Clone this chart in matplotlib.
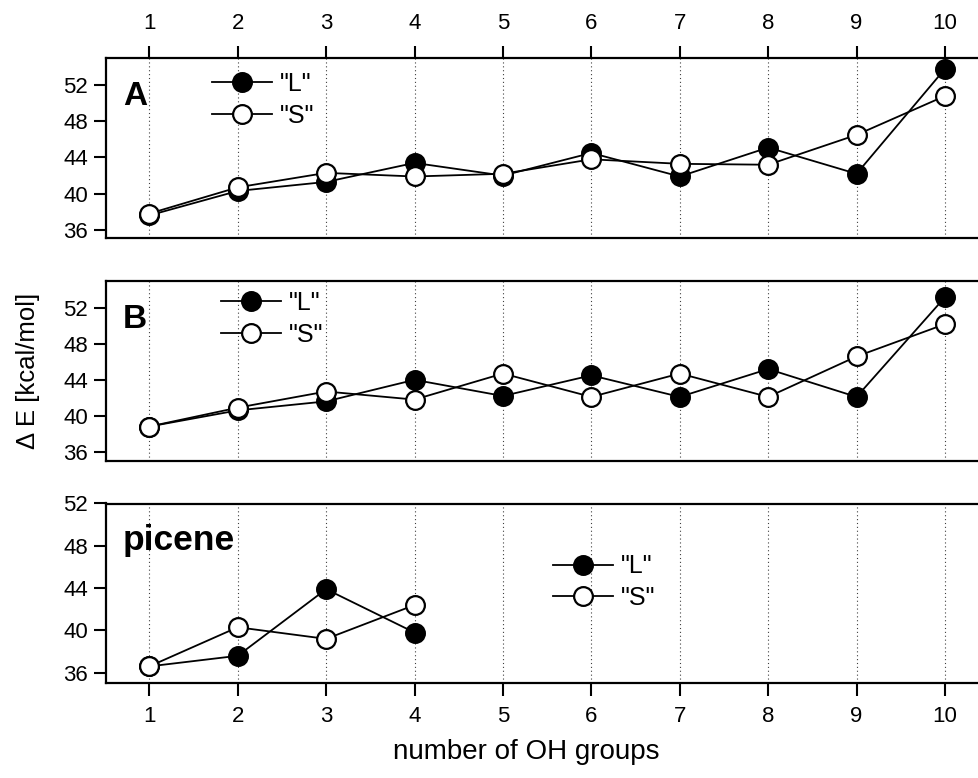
import matplotlib
matplotlib.use("Agg")
import matplotlib.pyplot as plt

plt.rcParams['font.family'] = ['Liberation Sans', 'DejaVu Sans']

# data
n_oh = [1, 2, 3, 4, 5, 6, 7, 8, 9, 10]
a_L = [37.6, 40.3, 41.3, 43.4, 42.0, 44.5, 41.9, 45.1, 42.2, 53.8]
a_S = [37.8, 40.7, 42.3, 41.9, 42.2, 43.8, 43.3, 43.2, 46.5, 50.8]
b_L = [38.8, 40.6, 41.6, 44.0, 42.2, 44.5, 42.1, 45.2, 42.1, 53.2]
b_S = [38.8, 40.9, 42.7, 41.8, 44.7, 42.1, 44.7, 42.1, 46.6, 50.2]
p_x = [1, 2, 3, 4]
p_L = [36.6, 37.6, 43.9, 39.8]
p_S = [36.6, 40.3, 39.2, 42.4]
yticks = [36, 40, 44, 48, 52]

W, H = 979, 778
fig = plt.figure(figsize=(W / 100, H / 100), dpi=100)

left = 106 / W
width = 892 / W
# (top px, bottom px) of each panel
boxes = [(58, 238), (280.7, 461), (503.5, 683.3)]
axes = []
for top, bot in boxes:
    ax = fig.add_axes([left, 1 - bot / H, width, (bot - top) / H])
    axes.append(ax)

ylims = [(35.1, 55.0), (34.96, 55.04), (35.0, 52.0)]
panels = [(n_oh, a_L, a_S), (n_oh, b_L, b_S), (p_x, p_L, p_S)]
labels = ['A', 'B', 'picene']
label_size = [24, 24, 25.5]
leg_pos = [(0.119, 0.767), (0.129, 0.788), (0.501, 0.563)]

for i, ax in enumerate(axes):
    xs, yl, ys = panels[i]
    ax.set_xlim(0.51, 10.6)
    ax.set_ylim(*ylims[i])
    ax.set_yticks(yticks)
    ax.set_xticks(n_oh)
    for x in n_oh:
        ax.axvline(x, color='0.25', lw=0.8, ls=(0, (1, 2.5)), zorder=0)
    ax.plot(xs, yl, '-o', color='black', lw=1.3, ms=13.5, mfc='black',
            mec='black', mew=1.6, label='"L"', zorder=3)
    ax.plot(xs, ys, '-o', color='black', lw=1.3, ms=13.5, mfc='white',
            mec='black', mew=1.6, label='"S"', zorder=4)
    for s in ax.spines.values():
        s.set_linewidth(1.6)
    ax.tick_params(axis='y', direction='out', length=9, width=1.5,
                   labelsize=16, pad=4)
    if i == 0:
        ax.tick_params(axis='x', which='both', bottom=False, labelbottom=False,
                       top=True, labeltop=True, direction='out', length=9,
                       width=1.5, labelsize=16, pad=8)
    elif i == 1:
        ax.tick_params(axis='x', bottom=False, labelbottom=False)
    else:
        ax.tick_params(axis='x', direction='out', length=9, width=1.5,
                       labelsize=16, pad=7)
    ax.text(0.019, 0.74, labels[i], transform=ax.transAxes,
            fontsize=label_size[i], fontweight='bold', va='baseline', ha='left')
    ax.legend(loc='center left', bbox_to_anchor=leg_pos[i], frameon=False,
              fontsize=18, handlelength=2.4, handletextpad=0.3,
              labelspacing=0.3, borderpad=0, borderaxespad=0)

fig.text(28 / W, 1 - 371 / H, 'Δ E [kcal/mol]', rotation=90, fontsize=18.5,
         ha='center', va='center')
fig.text(526 / W, 1 - 752 / H, 'number of OH groups', fontsize=20,
         ha='center', va='center')

fig.savefig('out.png', dpi=100)
